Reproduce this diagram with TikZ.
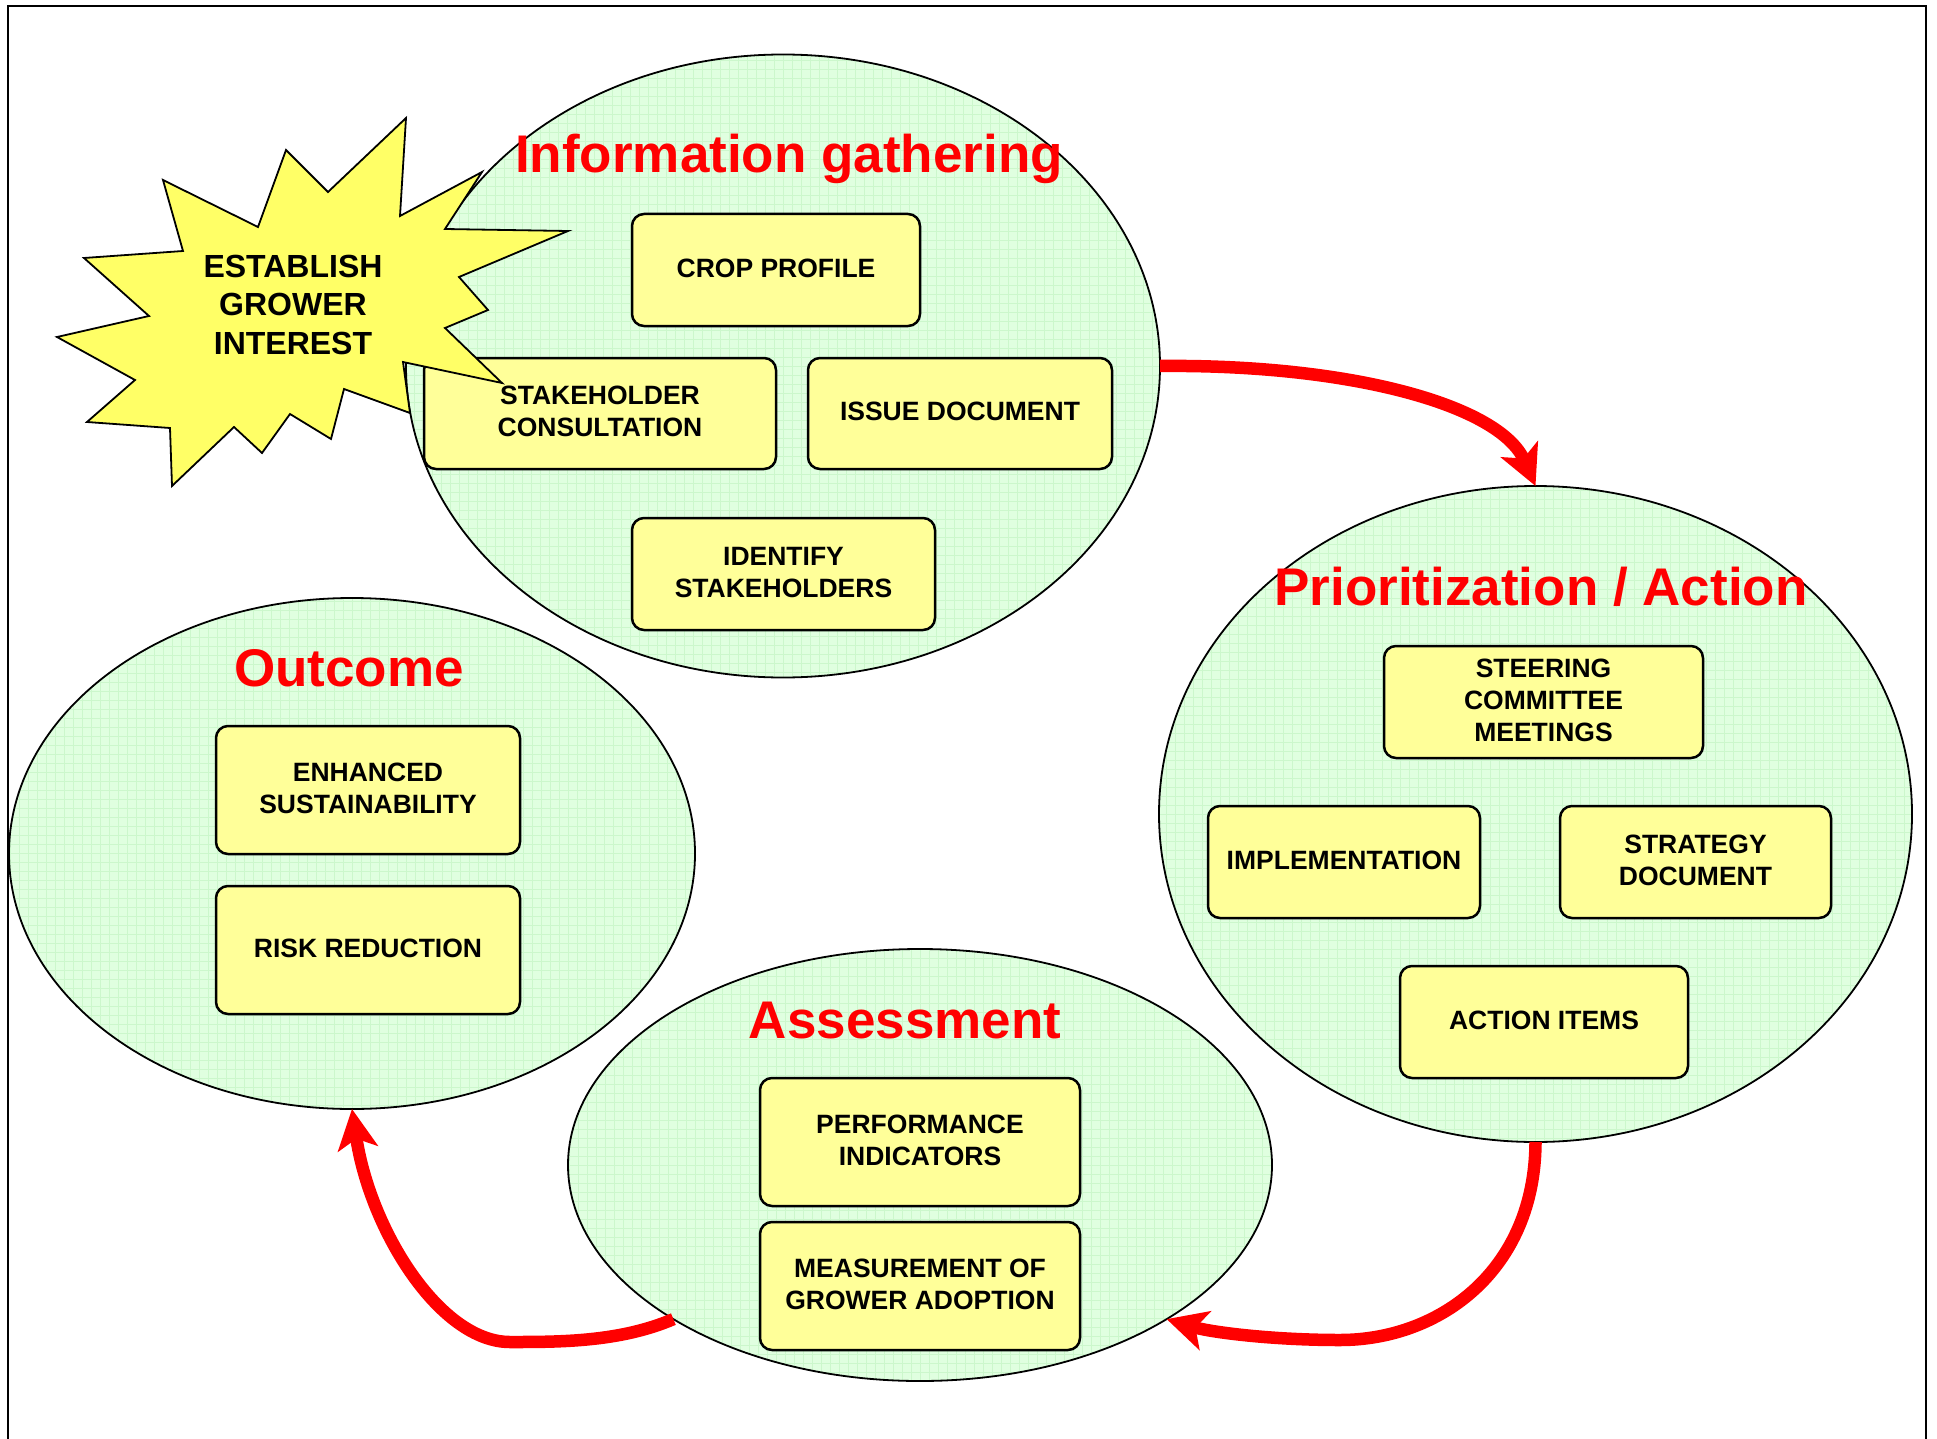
\documentclass[tikz,border=0pt]{standalone}
\usepackage{fontspec}
\setmainfont{Liberation Sans}
\usetikzlibrary{shapes.geometric,arrows.meta}
\definecolor{ellfill}{HTML}{E0FFE0}
\definecolor{gridc}{HTML}{CCF7CC}
\definecolor{boxfill}{HTML}{FFFF99}
\definecolor{starfill}{HTML}{FFFF66}
\definecolor{titlered}{HTML}{FF0000}
\begin{document}
\begin{tikzpicture}[x=1pt,y=-1pt,
  phase/.style={draw, line width=1.8pt, ellipse, inner sep=0pt, outer sep=0pt, fill=ellfill,
    path picture={\draw[gridc, line width=0.8pt, step=9pt] (path picture bounding box.south west) grid (path picture bounding box.north east);}},
  stepbox/.style={draw, line width=2.5pt, fill=boxfill, rounded corners=12pt, inner sep=0pt, align=center,
    text depth=4pt, font=\bfseries\fontsize{26.5}{32}\selectfont},
  phasetitle/.style={text=titlered, anchor=base, inner sep=0pt, font=\bfseries\fontsize{53}{60}\selectfont},
  startext/.style={inner sep=0pt, align=center, font=\bfseries\fontsize{32}{38.5}\selectfont},
  flow/.style={draw=titlered, line width=12.5pt, -{Stealth[length=40pt,width=40pt,inset=10pt]}}
]
\useasboundingbox (0,0) rectangle (1937,1439);
\fill[white] (0,0) rectangle (1937,1439);
\draw[line width=2pt] (8,1439) -- (8,6) -- (1926,6) -- (1926,1439);

% phases
\node[phase, minimum width=754pt, minimum height=623pt] (info) at (783,366) {};
\node[phase, minimum width=753pt, minimum height=656pt] (prior) at (1535.5,814) {};
\node[phase, minimum width=686pt, minimum height=511pt] (outcome) at (352,853.5) {};
\node[phase, minimum width=704pt, minimum height=432pt] (assess) at (920,1165) {};

% information gathering boxes
\node[stepbox, minimum width=288pt, minimum height=112pt] (crop) at (776,270) {CROP PROFILE};
\node[stepbox, minimum width=352pt, minimum height=111pt] (stake) at (600,413.5) {STAKEHOLDER\\CONSULTATION};
\node[stepbox, minimum width=304pt, minimum height=111pt] (issue) at (960,413.5) {ISSUE DOCUMENT};
\node[stepbox, minimum width=303pt, minimum height=112pt] (ident) at (783.5,574) {IDENTIFY\\STAKEHOLDERS};

% prioritization boxes
\node[stepbox, minimum width=319pt, minimum height=112pt] (steer) at (1543.5,702) {STEERING\\COMMITTEE\\MEETINGS};
\node[stepbox, minimum width=272pt, minimum height=112pt] (impl) at (1344,862) {IMPLEMENTATION};
\node[stepbox, minimum width=271pt, minimum height=112pt] (strat) at (1695.5,862) {STRATEGY\\DOCUMENT};
\node[stepbox, minimum width=288pt, minimum height=112pt] (action) at (1544,1022) {ACTION ITEMS};

% outcome boxes
\node[stepbox, minimum width=304pt, minimum height=128pt] (enh) at (368,790) {ENHANCED\\SUSTAINABILITY};
\node[stepbox, minimum width=304pt, minimum height=128pt] (risk) at (368,950) {RISK REDUCTION};

% assessment boxes
\node[stepbox, minimum width=320pt, minimum height=128pt] (perf) at (920,1142) {PERFORMANCE\\INDICATORS};
\node[stepbox, minimum width=320pt, minimum height=128pt] (meas) at (920,1286) {MEASUREMENT OF\\GROWER ADOPTION};

% starburst
\filldraw[fill=starfill, draw=black, line width=1.8pt, line join=miter]
  (406,118) -- (400,216) -- (482,172) -- (445,229) -- (568,231) -- (459,277) -- (488,310) -- (445,328)
  -- (502,383) -- (403,362) -- (410,413) -- (344,389) -- (331,439) -- (290,414) -- (262,453) -- (234,427)
  -- (172,486) -- (170,428) -- (87,422) -- (135,380) -- (57,337) -- (149,316) -- (84,258) -- (183,251)
  -- (163,180) -- (258,227) -- (286,150) -- (328,192) -- cycle;
\node[startext] (grower) at (293,304.5) {ESTABLISH\\GROWER\\INTEREST};

% titles
\node[phasetitle] (infot) at (789,173) {Information gathering};
\node[phasetitle] (priort) at (1541,605) {Prioritization / Action};
\node[phasetitle] (outt) at (349,686) {Outcome};
\node[phasetitle] (asst) at (905,1038) {Assessment};

% flow arrows
\draw[flow] (info.east) .. controls (1350,364) and (1500,405) .. (prior.north);
\draw[flow] (prior.south) .. controls (1535,1270) and (1440,1340) .. (1340,1340)
  .. controls (1270,1340) and (1210,1332) .. (assess.-32);
\draw[flow] (assess.212) .. controls (620,1342) and (560,1342) .. (510,1342)
  .. controls (440,1342) and (370,1230) .. (outcome.south);
\end{tikzpicture}
\end{document}
